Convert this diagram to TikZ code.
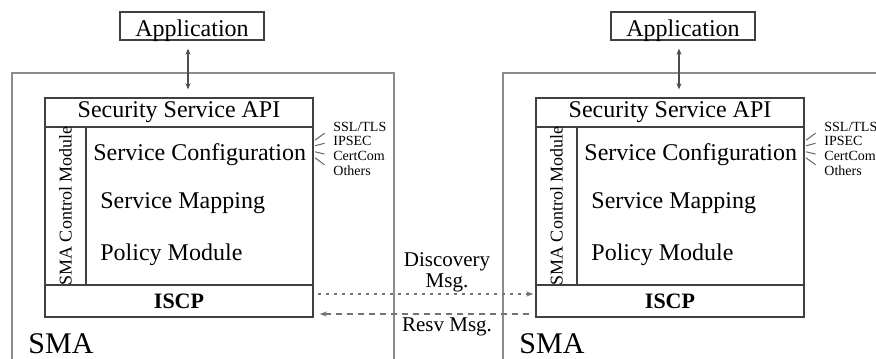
\documentclass[tikz,border=0pt]{standalone}
\usepackage{fontspec}
\setmainfont{Liberation Serif}
\usetikzlibrary{positioning,calc,arrows.meta}

\begin{document}
\begin{tikzpicture}[x=0.5pt,y=-0.5pt,
      frame/.style={rectangle, draw=black!75, line width=0.7pt, inner sep=0pt},
      outer/.style={draw=black!45, line width=0.9pt},
      appbox/.style={frame, minimum width=72pt, minimum height=14pt, text height=11pt, text depth=0pt, font=\fontsize{12}{14}\selectfont},
      row/.style={frame, minimum width=134pt, font=\fontsize{12}{14}\selectfont},
      ctrl/.style={frame, rotate=90, minimum width=79pt, minimum height=20.5pt, font=\fontsize{9}{10}\selectfont},
      item/.style={anchor=west, inner sep=0pt, font=\fontsize{12}{14}\selectfont},
      proto/.style={anchor=west, inner sep=0pt, font=\fontsize{7}{8}\selectfont},
      smatext/.style={anchor=west, inner sep=0pt, font=\fontsize{15}{17}\selectfont},
      msg/.style={align=center, inner sep=0pt, font=\fontsize{10.5}{10.5}\selectfont},
      tick/.style={draw=black!60, line width=0.5pt},
      link/.style={draw=black!70, line width=0.6pt, {Stealth[length=3pt,width=2.5pt]}-{Stealth[length=3pt,width=2.5pt]}, shorten <=4pt, shorten >=4pt},
      line/.style={draw=black!55, line width=0.7pt, -{Stealth[length=3.5pt,width=2.5pt]}}
    ]
    \clip (0,0) rectangle (876,358);

    % left SMA
    \node [appbox] (app1) at (192,26) {Application};
    \draw [outer] (12,362) -- (12,73) -- (394,73) -- (394,362);
    \node [row, minimum height=14.5pt] (api1) at (179,112.5) {Security Service API};
    \node [ctrl] (ctrl1) at (65.5,206) {SMA Control Module};
    \node [frame, minimum width=113.5pt, minimum height=79pt] (body1) at (199.5,206) {};
    \node [row, minimum height=16pt, font=\fontsize{11}{13}\selectfont\bfseries] (iscp1) at (179,301) {ISCP};
    \node [item] (conf1) at (93,155) {Service Configuration};
    \node [item] (map1) at (100,203) {Service Mapping};
    \node [item] (pol1) at (100,255) {Policy Module};
    \node [smatext] (sma1) at (28,344) {SMA};
    \node [proto] (ssl1) at (333,127) {SSL/TLS};
    \node [proto] (ipsec1) at (333,141) {IPSEC};
    \node [proto] (cert1) at (333,156) {CertCom};
    \node [proto] (oth1) at (333,171) {Others};
    \coordinate (hub1) at (303,149);

    % right SMA
    \node [appbox] (app2) at (683,26) {Application};
    \draw [outer] (503,362) -- (503,73) -- (885,73) -- (885,362);
    \node [row, minimum height=14.5pt] (api2) at (670,112.5) {Security Service API};
    \node [ctrl] (ctrl2) at (556.5,206) {SMA Control Module};
    \node [frame, minimum width=113.5pt, minimum height=79pt] (body2) at (690.5,206) {};
    \node [row, minimum height=16pt, font=\fontsize{11}{13}\selectfont\bfseries] (iscp2) at (670,301) {ISCP};
    \node [item] (conf2) at (584,155) {Service Configuration};
    \node [item] (map2) at (591,203) {Service Mapping};
    \node [item] (pol2) at (591,255) {Policy Module};
    \node [smatext] (sma2) at (519,344) {SMA};
    \node [proto] (ssl2) at (824,127) {SSL/TLS};
    \node [proto] (ipsec2) at (824,141) {IPSEC};
    \node [proto] (cert2) at (824,156) {CertCom};
    \node [proto] (oth2) at (824,171) {Others};
    \coordinate (hub2) at (794,149);

    % messages
    \node [msg] (disc) at (447,272) {Discovery\\Msg.};
    \node [msg] (resv) at (447,327) {Resv Msg.};

    \path [link] (app1.south -| 188,0) -- (api1.north -| 188,0);
    \path [link] (app2.south -| 679,0) -- (api2.north -| 679,0);

    \path [tick] ($(hub1)!0.4!(ssl1.west)$) -- ($(hub1)!0.72!(ssl1.west)$);
    \path [tick] ($(hub1)!0.4!(ipsec1.west)$) -- ($(hub1)!0.72!(ipsec1.west)$);
    \path [tick] ($(hub1)!0.4!(cert1.west)$) -- ($(hub1)!0.72!(cert1.west)$);
    \path [tick] ($(hub1)!0.4!(oth1.west)$) -- ($(hub1)!0.72!(oth1.west)$);
    \path [tick] ($(hub2)!0.4!(ssl2.west)$) -- ($(hub2)!0.72!(ssl2.west)$);
    \path [tick] ($(hub2)!0.4!(ipsec2.west)$) -- ($(hub2)!0.72!(ipsec2.west)$);
    \path [tick] ($(hub2)!0.4!(cert2.west)$) -- ($(hub2)!0.72!(cert2.west)$);
    \path [tick] ($(hub2)!0.4!(oth2.west)$) -- ($(hub2)!0.72!(oth2.west)$);

    \path [line, dash pattern=on 1.5pt off 2.5pt, shorten <=2pt, shorten >=1pt] ([yshift=3.5pt]iscp1.east) -- ([yshift=3.5pt]iscp2.west);
    \path [line, dash pattern=on 3pt off 2.5pt, shorten <=3pt, shorten >=3pt] ([yshift=-6.5pt]iscp2.west) -- ([yshift=-6.5pt]iscp1.east);

    \end{tikzpicture}
\end{document}
